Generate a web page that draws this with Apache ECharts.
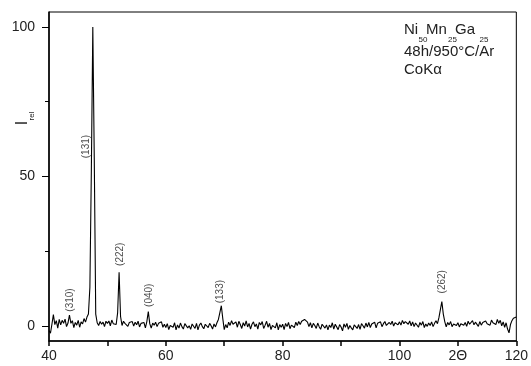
<!DOCTYPE html>
<html><head><meta charset="utf-8">
<script src="https://cdn.jsdelivr.net/npm/echarts@6/dist/echarts.min.js"></script>
<style>html,body{margin:0;padding:0;background:#fff}#c{width:531px;height:366px}</style>
</head><body><div id="c"></div>
<script>
// Measurement grid: 2θ from 40° to 120° in 0.25° steps
const startAngle = 40;
const stepAngle = 0.25;
const intensity = [
 -1.5,-2.4,0.6,3.8,0.5,1.8,-0.7,2.2,0.4,1.9,0.9,2.3,-0.2,1.0,3.7,0.9,1.8,-0.5,1.2,0.3,
 1.9,-0.4,1.4,0.7,2.5,1.3,3.0,4.0,13,52,100,56,4,1.1,0.2,1.5,0.6,1.3,-0.2,1.6,
 0.9,1.7,0.1,2.0,0.8,1.3,0.5,4.5,18,3.2,0.2,1.6,0.9,1.4,-0.1,1.2,0.7,1.5,0.0,1.3,
 0.4,1.6,-0.3,0.9,0.5,1.2,-0.6,1.5,4.8,0.8,-0.7,1.0,0.3,1.3,-0.2,0.9,0.5,1.4,-0.4,0.6,
 -0.5,0.8,-1.2,0.2,0.6,-0.4,1.1,-1.3,0.4,-0.7,1.0,-0.2,-1.0,0.8,1.3,-0.6,0.1,-1.1,0.7,0.2,
 -0.8,0.9,-1.3,0.3,1.0,-0.2,-0.9,0.6,1.2,-0.5,0.9,0.1,-1.0,0.7,-0.3,1.1,2.2,4.5,6.8,2.5,
 -1.2,0.5,-0.6,1.3,0.2,1.8,0.6,0.1,1.4,-0.4,1.6,0.5,-0.8,1.1,0.0,1.7,-0.3,0.9,-1.0,0.6,
 1.4,-0.2,0.7,-1.0,1.2,0.4,1.5,-0.8,0.3,1.6,-0.4,0.9,-1.2,0.2,0.8,-0.6,1.1,-1.3,0.5,-0.4,
 0.6,-1.2,0.9,-0.2,1.2,-0.9,0.3,0.9,-0.5,1.3,0.2,1.5,0.5,1.6,1.2,2.2,2.8,1.3,-0.2,1.1,
 -0.6,0.9,0.2,-0.8,1.0,-0.2,-1.1,0.6,1.2,-0.7,0.4,-1.3,0.3,-0.5,1.1,-1.0,0.6,0.0,-1.2,0.5,
 -0.3,-1.6,0.7,-0.4,0.9,-1.1,0.2,-0.6,-1.3,0.4,1.0,-0.8,0.5,-1.1,0.8,0.1,-0.7,1.0,-0.3,1.2,
 -0.5,0.7,0.1,1.3,-0.6,0.9,0.3,1.4,-0.2,0.8,1.5,0.2,-0.4,1.2,0.5,1.6,0.0,1.1,1.7,0.4,
 1.4,0.3,1.9,0.8,1.5,2.1,0.6,1.7,0.1,1.4,-0.2,1.0,0.5,-0.4,1.2,0.3,1.5,-0.5,0.7,-0.1,
 1.0,0.2,1.4,-0.2,0.9,1.8,0.8,2.8,5.5,8.2,4.0,1.5,-0.3,1.2,0.4,1.5,-0.2,0.7,1.3,0.2,
 1.1,-0.3,0.8,1.4,0.3,1.2,-0.1,1.6,0.6,1.0,1.8,0.4,1.3,0.9,-0.1,1.5,0.3,1.2,0.6,1.7,
 0.8,1.4,0.3,2.0,1.1,1.6,0.5,2.2,0.9,1.9,0.1,1.4,-0.4,1.1,-1.0,-2.3,0.5,1.8,2.6,2.2,
 3.0
];
// Peak labels: text, 2θ position, label-centre height (I_rel)
const peakNames = ['(310)','(131)','(222)','(040)','(133)','(262)'];
const peakAngles = [43.6, 46.4, 52.2, 57.2, 69.4, 107.4];
const peakLabelY = [8.7, 60, 24, 10.3, 11.5, 14.8];
const yMajorTicks = [0, 50, 100];
const yMinorTicks = [25, 75];

const pattern = intensity.map((v, i) => [startAngle + i * stepAngle, v]);
const labelPts = peakNames.map((n, i) => ({ value: [peakAngles[i], peakLabelY[i]], name: n }));

const FONT = 'Liberation Sans, Arial, sans-serif';
const TXT = '#222';
function txt(x, y, s, size, rot) {
  return { type: 'text', x: x, y: y, rotation: rot || 0,
    style: { text: s, font: size + 'px ' + FONT, fill: TXT,
      align: rot ? 'center' : 'left', verticalAlign: 'middle',
      textAlign: rot ? 'center' : 'left', textVerticalAlign: 'middle' } };
}
const chart = echarts.init(document.getElementById('c'), null, { renderer: 'canvas' });
chart.setOption({
  animation: false,
  backgroundColor: '#fff',
  grid: { left: 49, right: 12, top: 12, bottom: 25, show: true, borderColor: '#000', borderWidth: 1 },
  xAxis: {
    type: 'value', min: 40, max: 120, interval: 10,
    axisLine: { show: true, onZero: false, lineStyle: { color: '#000', width: 1.5 } },
    axisTick: { show: true, length: 5, lineStyle: { color: '#000', width: 1.5 } },
    axisLabel: {
      color: TXT, fontFamily: FONT, fontSize: 14, margin: 8,
      formatter: v => (v === 110 ? '2\u0398' : (v % 20 === 0 ? String(v) : ''))
    },
    splitLine: { show: false }
  },
  yAxis: [{
    type: 'value', min: -5, max: 105,
    axisLine: { show: true, onZero: false, lineStyle: { color: '#000', width: 1.5 } },
    axisTick: { show: true, length: 7, customValues: yMajorTicks, lineStyle: { color: '#000', width: 1 } },
    axisLabel: { color: TXT, fontFamily: FONT, fontSize: 14, margin: 14, customValues: yMajorTicks },
    splitLine: { show: false }
  }, {
    type: 'value', min: -5, max: 105, position: 'left',
    axisLine: { show: false },
    axisTick: { show: true, length: 4, customValues: yMinorTicks, lineStyle: { color: '#000', width: 1 } },
    axisLabel: { show: false },
    splitLine: { show: false }
  }],
  series: [{
    type: 'line', data: pattern, showSymbol: false, symbol: 'none',
    lineStyle: { color: '#000', width: 1.1 }, clip: true, z: 3
  }, {
    type: 'scatter', data: labelPts, symbolSize: 1, itemStyle: { color: 'rgba(0,0,0,0)' },
    label: { show: true, position: 'inside', rotate: 90, formatter: p => p.name,
      color: TXT, fontFamily: FONT, fontSize: 10 }, z: 4
  }],
  graphic: [
    txt(23, 123, 'I', 16, Math.PI / 2),
    txt(32, 116, 'rel', 8, Math.PI / 2),
    txt(404, 30, 'Ni', 15), txt(418.5, 39.5, '50', 8),
    txt(426, 30, 'Mn', 15), txt(448, 39.5, '25', 8),
    txt(455, 30, 'Ga', 15), txt(479.5, 39.5, '25', 8),
    txt(404, 52, '48h/950\u00B0C/Ar', 15),
    txt(404, 70, 'CoK\u03B1', 15)
  ]
});
</script></body></html>
